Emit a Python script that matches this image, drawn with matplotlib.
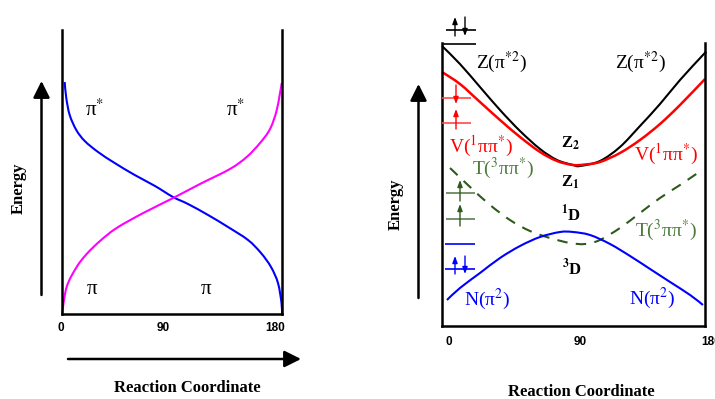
import matplotlib
matplotlib.use("Agg")
import matplotlib.pyplot as plt
import matplotlib.transforms as mtransforms
from matplotlib.path import Path
from matplotlib.patches import PathPatch
import numpy as np

plt.rcParams['mathtext.fontset'] = 'stix'
plt.rcParams['font.family'] = ['Liberation Serif', 'DejaVu Serif']

# ---------------- data ----------------
# Left panel: orbital energies vs twist angle (arbitrary energy units)
left_blue_angle = [2.2, 3.5, 6.3, 11.7, 18.6, 29.5, 43.1, 59.5, 76.1, 90.8, 103.1, 119.5, 135.8, 152.2, 162.8, 171.0, 176.7, 179.6, 180.0]
left_blue_energy = [232, 216, 199, 184, 173, 162, 151, 139, 128, 117, 110, 99, 87, 74, 61, 47, 31, 11, 0]
left_mag_angle = [0.0, 3.8, 12.0, 20.2, 31.1, 44.7, 66.5, 91.0, 112.9, 137.4, 151.1, 162.0, 170.2, 175.7, 179.8]
left_mag_energy = [0, 27, 47, 60, 73, 86, 101, 116, 130, 145, 157, 171, 185, 204, 231]

# Right panel: state energies vs twist angle
Z_angle = [0.0, 12.3, 26.0, 39.7, 53.4, 67.1, 78.7, 89.7, 94.4, 108.1, 121.8, 135.5, 149.2, 162.9, 178.6, 180.0]
Z_energy = [280, 262, 239, 216, 195, 177, 166, 161, 160, 165, 179, 200, 222, 246, 271, 273]
V_angle = [0.0, 12.3, 26.0, 39.7, 53.4, 67.1, 78.7, 89.7, 97.9, 108.1, 121.8, 135.5, 149.2, 162.9, 180.0]
V_energy = [254, 242, 224, 206, 189, 174, 165, 161, 161.5, 164, 173, 186, 202, 221, 247]
T_angle = [5.5, 19.2, 32.9, 46.5, 60.2, 73.9, 87.6, 97.9, 108.1, 121.8, 135.5, 149.2, 162.9, 178.0]
T_energy = [158, 139, 121, 106, 95, 88, 83, 82, 86, 98, 113, 128, 141, 156]
N_angle = [3.4, 12.3, 26.0, 39.7, 53.4, 67.1, 80.8, 89.7, 101.3, 115.0, 128.7, 142.4, 156.1, 169.8, 178.6]
N_energy = [26, 38, 53, 68, 80, 89, 94, 94, 91, 82, 70, 57, 44, 31, 21]

tick_values = [0, 90, 180]
tick_labels = ['0', '90', '180']

# ---------------- figure ----------------
W, H = 715, 399
fig = plt.figure(figsize=(W / 100, H / 100), dpi=100)
fig.patch.set_facecolor('white')

def ax_px(l, t, r, b):
    return fig.add_axes([l / W, 1 - b / H, (r - l) / W, (b - t) / H])

def smooth_line(ax, xs, ys, **kw):
    """Draw a smooth curve through the data points (Catmull-Rom rendered as Bezier)."""
    p = np.column_stack([xs, ys]).astype(float)
    n = len(p)
    verts = [p[0]]
    codes = [Path.MOVETO]
    for i in range(n - 1):
        p0 = p[i - 1] if i > 0 else p[i]
        p1 = p[i]
        p2 = p[i + 1]
        p3 = p[i + 2] if i + 2 < n else p[i + 1]
        verts += [p1 + (p2 - p0) / 6, p2 - (p3 - p1) / 6, p2]
        codes += [Path.CURVE4] * 3
    patch = PathPatch(Path(verts, codes), fill=False, transform=ax.transData,
                      clip_on=False, capstyle='butt', **kw)
    ax.add_patch(patch)

GREEN = '#2e5a1c'
GREEN_T = '#4c7a3c'
GREEN_O = '#5f7f4f'

# Left axes
axL = ax_px(62, 30, 282, 314)
axL.set_xlim(0, 180)
axL.set_ylim(0, 284)
smooth_line(axL, left_blue_angle, left_blue_energy, edgecolor='#0000ff', lw=1.5)
smooth_line(axL, left_mag_angle, left_mag_energy, edgecolor='#ff00ff', lw=1.5)
axL.spines['top'].set_visible(False)
for s in ['left', 'right', 'bottom']:
    axL.spines[s].set_linewidth(1.8)
axL.set_xticks([])
axL.set_yticks([])

# Right axes
axR = ax_px(442, 43, 705, 326)
axR.set_xlim(0, 180)
axR.set_ylim(0, 283)
smooth_line(axR, Z_angle, Z_energy, edgecolor='black', lw=1.5)
smooth_line(axR, V_angle, V_energy, edgecolor='#ff0000', lw=1.8)
smooth_line(axR, T_angle, T_energy, edgecolor=GREEN, lw=1.5, linestyle=(0, (5, 4)))
smooth_line(axR, N_angle, N_energy, edgecolor='#0000ff', lw=1.5)
axR.spines['top'].set_visible(False)
for s in ['left', 'right', 'bottom']:
    axR.spines[s].set_linewidth(1.8)
axR.set_xticks([])
axR.set_yticks([])

# tick labels (drawn with axis scale + small pixel offsets)
def tick_text(ax, offsets_px, y_px):
    for v, lab, dx in zip(tick_values, tick_labels, offsets_px):
        tr = ax.get_xaxis_transform() + mtransforms.ScaledTranslation(dx / 100, -y_px / 100, fig.dpi_scale_trans)
        ax.text(v, 0, lab, transform=tr, ha='center', va='center',
                family='Liberation Sans', fontweight='bold', fontsize=8.5, clip_on=False)

tick_text(axL, [-1, -9, -7], 14)
tick_text(axR, [7, 6.5, 6], 16)

# Overlay in pixel coordinates for annotations
ov = fig.add_axes([0, 0, 1, 1], facecolor='none')
ov.set_xlim(0, W)
ov.set_ylim(H, 0)
ov.axis('off')

def arrow(x0, y0, x1, y1, color='black', lw=1.8, hl=10, hw=5):
    ov.annotate('', xy=(x1, y1), xytext=(x0, y0),
                arrowprops=dict(arrowstyle=f'-|>,head_length={hl/10:.2f},head_width={hw/10:.2f}',
                                color=color, lw=lw, shrinkA=0, shrinkB=0))

# axis arrows
arrow(41.5, 295, 41.5, 81)
arrow(68, 359, 301, 359)
arrow(418.5, 298, 418.5, 84)
arrow(450, 365, 716, 365)

bold_serif = dict(fontweight='bold', fontsize=12, color='black')
ov.text(19, 188, 'Energy', rotation=90, ha='center', va='center', **bold_serif)
ov.text(187, 388, 'Reaction Coordinate', ha='center', va='center', **bold_serif)
ov.text(396, 204, 'Energy', rotation=90, ha='center', va='center', **bold_serif)
ov.text(581, 392, 'Reaction Coordinate', ha='center', va='center', **bold_serif)

# left panel labels
pi_kw = dict(fontsize=15, ha='center', va='center', color='black')
ov.text(95, 110, 'π$^{*}$', **pi_kw)
ov.text(236, 110, 'π$^{*}$', **pi_kw)
ov.text(92, 290, 'π', **pi_kw)
ov.text(206, 290, 'π', **pi_kw)

# right panel state labels
lab_kw = dict(fontsize=14, ha='left', va='center')
ov.text(476, 62, 'Z(π$^{*2}$)', color='black', **lab_kw)
ov.text(615, 62, 'Z(π$^{*2}$)', color='black', **lab_kw)
ov.text(449, 146, 'V($^{1}$ππ$^{*}$)', color='#ff0000', **lab_kw)
ov.text(634, 154, 'V($^{1}$ππ$^{*}$)', color='#ff0000', **lab_kw)
ov.text(472, 168, 'T($^{3}$ππ$^{*}$)', color=GREEN_T, **lab_kw)
ov.text(635, 230, 'T($^{3}$ππ$^{*}$)', color=GREEN_T, **lab_kw)
ov.text(464, 299, 'N(π$^{2}$)', color='#0000ff', **lab_kw)
ov.text(629, 298, 'N(π$^{2}$)', color='#0000ff', **lab_kw)

st_kw = dict(fontsize=12, ha='center', va='center', color='black', fontweight='bold')
ov.text(570, 143, r'Z$_{\mathbf{2}}$', **st_kw)
ov.text(570, 182, r'Z$_{\mathbf{1}}$', **st_kw)
ov.text(571, 214, r'$^{\mathbf{1}}$D', **st_kw)
ov.text(572, 268, r'$^{\mathbf{3}}$D', **st_kw)

# orbital occupation diagrams
def level(x0, x1, y, color, lw=1.2):
    ov.plot([x0, x1], [y, y], color=color, lw=lw, solid_capstyle='butt')

def spin(x, y_from, y_to, color):
    ov.annotate('', xy=(x, y_to), xytext=(x, y_from),
                arrowprops=dict(arrowstyle='-|>,head_length=0.4,head_width=0.15',
                                color=color, lw=1.0, shrinkA=0, shrinkB=0))

# Z(pi*2): both electrons in pi*
level(446, 476, 30, 'black')
level(442, 476, 44, 'black')
spin(455, 36, 17, 'black')
spin(465, 17, 36, 'black')
# V: singlet
level(442, 471, 98, '#ff4a4a')
level(442, 471, 123, '#ff4a4a')
spin(456, 85, 104, '#ff0000')
spin(456, 129, 109, '#ff0000')
# T: triplet
level(446, 475, 193, GREEN_O)
level(446, 475, 219, GREEN_O)
spin(460, 201, 180, GREEN)
spin(460, 226, 204, GREEN)
# N: ground state
level(445, 475, 244, '#0000ff')
level(445, 475, 269, '#0000ff')
spin(455, 274, 256, '#0000ff')
spin(465, 256, 274, '#0000ff')

fig.savefig('out.png', dpi=100)
